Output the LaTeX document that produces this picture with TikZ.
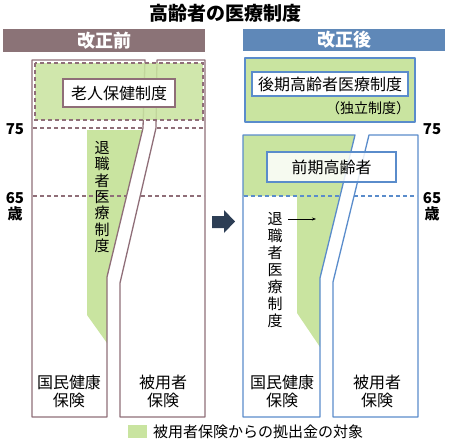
\documentclass[tikz,border=0pt]{standalone}
\usepackage{fontspec}
\setmainfont{Noto Sans CJK JP}
\usepackage{tikz}
\usetikzlibrary{positioning,arrows.meta,calc}
\usepackage{xcolor}
\definecolor{oldbar}{HTML}{8B7377}
\definecolor{oldline}{HTML}{8F6E78}
\definecolor{newbar}{HTML}{5F88B8}
\definecolor{newline}{HTML}{5A8CCB}
\definecolor{subsidy}{HTML}{C9E4A0}
\definecolor{navy}{HTML}{2D3E55}
\tikzset{
  headtext/.style={
    font=\bfseries\fontsize{18}{18}\selectfont, text=white, inner sep=0pt
  },
  agelabel/.style={
    font=\bfseries\fontsize{15}{15}\selectfont, inner sep=0pt
  },
  oldcol/.style={
    draw=oldline, line width=1.3pt, line join=round
  },
  newcol/.style={
    draw=newline, line width=1.3pt, line join=round
  },
  namebox/.style={
    draw, fill=white, line width=1.1pt, inner sep=0pt,
    font=\fontsize{16}{16}\selectfont
  },
  ageline/.style={
    dashed, dash pattern=on 4pt off 3pt, line width=1.1pt
  },
  tatetext/.style={
    align=center, inner sep=0pt
  },
  collabel/.style={
    align=center, inner sep=0pt, font=\fontsize{16}{18}\selectfont
  },
  thinarr/.style={
    -{Stealth[length=4pt]}, line width=0.6pt
  }
}

\begin{document}
\begin{tikzpicture}[x=1pt,y=-1pt]
\useasboundingbox (0,0) rectangle (450,442);

\node[font=\bfseries\fontsize{19}{19}\selectfont, inner sep=0pt] (title) at (225,13) {高齢者の医療制度};

% before
\fill[oldbar] (3,29) rectangle (205,52);
\node[headtext] (hdold) at (104,41) {改正前};

\fill[subsidy] (87,130) -- (142.5,130) -- (107,277) -- (107,343) -- (87,315) -- cycle;
\draw[oldcol] (145,60) -- (32,60) -- (32,417) -- (107,417) -- (107,277) -- (143,128) -- cycle;
\draw[oldcol] (157,60) -- (205,60) -- (205,417) -- (120,417) -- (120,283) -- (156,128) -- cycle;

\fill[subsidy, opacity=0.88] (35,63) rectangle (203,120);
\draw[oldline, ageline] (35,63) rectangle (203,120);
\draw[oldline, ageline] (33,128) -- (143,128) (157,128) -- (204,128);
\draw[oldline, ageline] (33,196) -- (126,196) (141,196) -- (204,196);

\node[namebox, draw=oldline, minimum width=112pt, minimum height=28pt] (rojin) at (119,93) {老人保健制度};
\node[tatetext, font=\fontsize{15}{16.3}\selectfont] (taiold) at (102,197) {退\\職\\者\\医\\療\\制\\度};

\node[collabel] (kokuold) at (69,391) {国民健康\\保険};
\node[collabel] (hiyoold) at (163,391) {被用者\\保険};

\node[agelabel] (a75l) at (15,129) {75};
\node[agelabel] (a65l) at (15,198) {65};
\node[font=\bfseries\fontsize{15}{15}\selectfont, inner sep=0pt] (sail) at (15,214) {歳};

% arrow
\fill[navy] (212,216) -- (224,216) -- (224,210) -- (235,221.5) -- (224,233) -- (224,228) -- (212,228) -- cycle;

% after
\fill[newbar] (243,29) rectangle (445,51);
\node[headtext] (hdnew) at (344,40) {改正後};

\fill[subsidy] (245,58) rectangle (415,122);
\draw[newcol] (245,58) rectangle (415,122);
\node[namebox, draw=newline, minimum width=156pt, minimum height=24pt] (koki) at (330,84) {後期高齢者医療制度};
\node[font=\fontsize{14}{14}\selectfont, inner sep=0pt] (dokuritsu) at (368,108) {（独立制度）};

\fill[subsidy] (243,135) -- (355,135) -- (320,278) -- (320,347) -- (297,313) -- (297,196) -- (243,196) -- cycle;
\draw[newcol] (355,135) -- (243,135) -- (243,417) -- (320,417) -- (320,278) -- cycle;
\draw[newcol] (369,135) -- (418,135) -- (418,417) -- (333,417) -- (333,282) -- cycle;
\draw[newline, ageline] (244,196) -- (340,196) (354,196) -- (417,196);

\node[namebox, draw=newline, fill opacity=0.85, text opacity=1, minimum width=129pt, minimum height=30pt] (zenki) at (331.5,167) {前期高齢者};
\node[tatetext, font=\fontsize{15}{17}\selectfont] (tainew) at (275,270) {退\\職\\者\\医\\療\\制\\度};
\coordinate (tailR) at (288,219);
\coordinate (tipR) at (316,219);
\draw[thinarr] (tailR) -- (tipR);

\node[collabel] (kokunew) at (282,391) {国民健康\\保険};
\node[collabel] (hiyonew) at (377,391) {被用者\\保険};

\node[agelabel] (a75r) at (432,129) {75};
\node[agelabel] (a65r) at (432,198) {65};
\node[font=\bfseries\fontsize{15}{15}\selectfont, inner sep=0pt] (sair) at (432,214) {歳};

% legend
\fill[subsidy] (128,425) rectangle (147,438);
\node[anchor=west, inner sep=0pt, font=\fontsize{15}{15}\selectfont] (legend) at (153,432) {被用者保険からの拠出金の対象};
\end{tikzpicture}
\end{document}
